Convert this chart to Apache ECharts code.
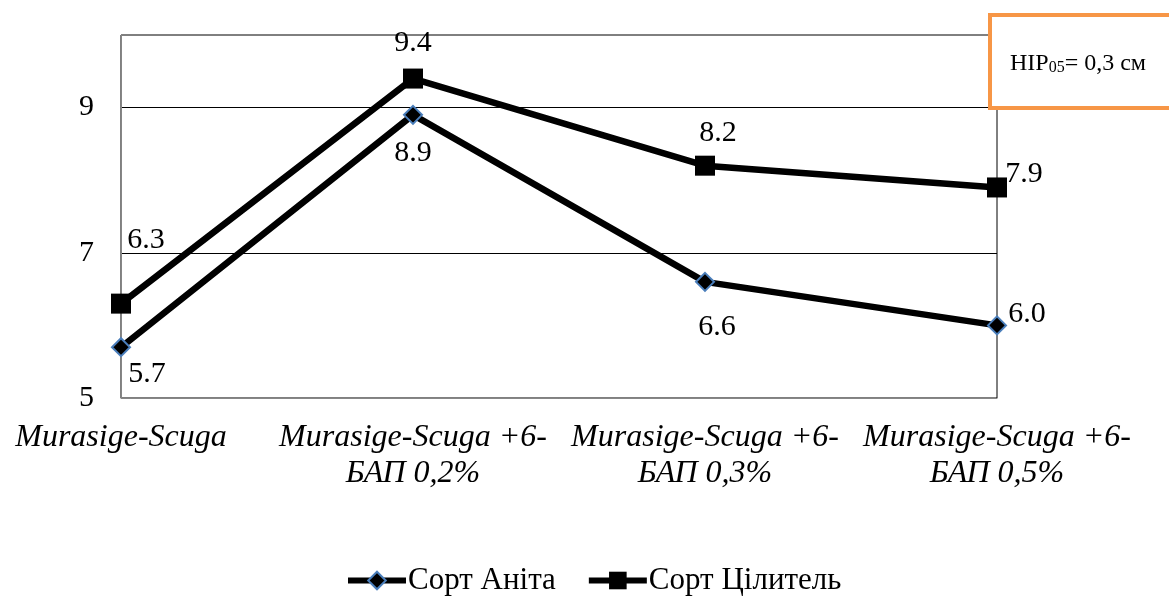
<!DOCTYPE html>
<html>
<head>
<meta charset="utf-8">
<script src="https://cdn.jsdelivr.net/npm/echarts@6/dist/echarts.min.js"></script>
<style>
  html, body { margin: 0; padding: 0; background: #fff; }
  #chart { width: 1169px; height: 615px; }
</style>
</head>
<body>
<div id="chart"></div>
<script>
// Media variants on the x axis
const categories = [
  'Murasige-Scuga',
  'Murasige-Scuga +6-\nБАП 0,2%',
  'Murasige-Scuga +6-\nБАП 0,3%',
  'Murasige-Scuga +6-\nБАП 0,5%'
];

// Values for each cultivar
const anitaName = 'Сорт Аніта';
const anitaValues = [5.7, 8.9, 6.6, 6.0];

const tsilytelName = 'Сорт Цілитель';
const tsilytelValues = [6.3, 9.4, 8.2, 7.9];

// Y axis labelled values
const yTickLabels = [5, 7, 9];

// Label offsets (px) relative to each point, per series
const anitaLabelOffsets = [[26, 27], [0, 38], [12, 45], [30, -11]];
const tsilytelLabelOffsets = [[25, -63], [0, -35], [13, -33], [27, -13]];

const FONT = "'Liberation Serif', 'Times New Roman', serif";

function labelled(values, offsets) {
  return values.map((v, i) => ({
    value: v,
    label: { offset: offsets[i] }
  }));
}

const chart = echarts.init(document.getElementById('chart'));

chart.setOption({
  animation: false,
  backgroundColor: '#fff',
  grid: {
    left: 121, right: 172, top: 35, bottom: 217,
    show: true, borderColor: '#000', borderWidth: 1, backgroundColor: 'transparent'
  },
  xAxis: {
    type: 'category',
    data: categories,
    boundaryGap: false,
    axisLine: { lineStyle: { color: '#868686', width: 1 } },
    axisTick: { show: false },
    splitLine: { show: false },
    axisLabel: {
      interval: 0,
      margin: 22,
      fontFamily: FONT,
      fontStyle: 'italic',
      fontSize: 32,
      lineHeight: 36,
      color: '#000',
      align: 'center'
    }
  },
  yAxis: {
    type: 'value',
    min: 5,
    max: 10,
    interval: 1,
    axisLine: { show: true, lineStyle: { color: '#868686', width: 1 } },
    axisTick: { show: false },
    splitLine: {
      show: true,
      lineStyle: { color: ['#000', 'rgba(0,0,0,0)'], width: 1 }
    },
    axisLabel: {
      margin: 27,
      fontFamily: FONT,
      fontSize: 30,
      color: '#000',
      formatter: v => (yTickLabels.indexOf(v) >= 0 ? String(v) : '')
    }
  },
  legend: {
    bottom: 19,
    left: 345,
    padding: 0,
    itemWidth: 58,
    itemHeight: 22,
    itemGap: 30,
    lineStyle: { width: 6 },
    textStyle: { fontFamily: FONT, fontSize: 31, color: '#000', padding: [0, 0, 0, -3] },
    data: [anitaName, tsilytelName]
  },
  series: [
    {
      name: anitaName,
      type: 'line',
      data: labelled(anitaValues, anitaLabelOffsets),
      symbol: 'diamond',
      symbolSize: 18,
      lineStyle: { color: '#000', width: 6.5 },
      itemStyle: { color: '#000', borderColor: '#4a7ebb', borderWidth: 2 },
      label: {
        show: true,
        position: 'inside',
        fontFamily: FONT,
        fontSize: 30,
        color: '#000',
        formatter: p => p.value.toFixed(1)
      },
      z: 3
    },
    {
      name: tsilytelName,
      type: 'line',
      data: labelled(tsilytelValues, tsilytelLabelOffsets),
      symbol: 'rect',
      symbolSize: 20,
      lineStyle: { color: '#000', width: 6.5 },
      itemStyle: { color: '#000' },
      label: {
        show: true,
        position: 'inside',
        fontFamily: FONT,
        fontSize: 30,
        color: '#000',
        formatter: p => p.value.toFixed(1)
      },
      z: 3
    }
  ],
  graphic: [
    {
      type: 'rect',
      left: 988, top: 13,
      shape: { width: 200, height: 93 },
      style: { fill: '#fff', stroke: '#f79646', lineWidth: 4 },
      z: 100
    },
    {
      type: 'text',
      left: 1010, top: 42,
      z: 101,
      style: {
        text: '{a|HIP}{s|05}{a|= 0,3 см}',
        rich: {
          a: { fontFamily: FONT, fontSize: 24, fill: '#000', lineHeight: 30, verticalAlign: 'bottom' },
          s: { fontFamily: FONT, fontSize: 16, fill: '#000', lineHeight: 30, padding: [18, 0, 0, 0], verticalAlign: 'bottom' }
        }
      }
    }
  ]
});
</script>
</body>
</html>
